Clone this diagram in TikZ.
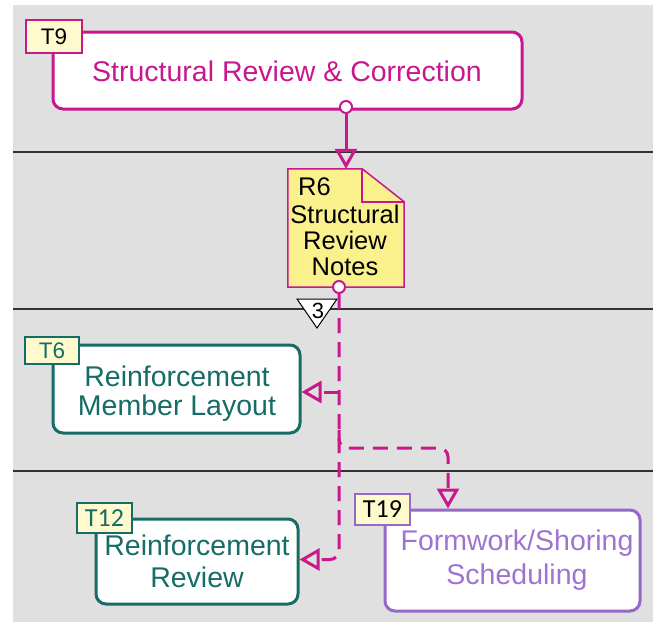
\documentclass[tikz,border=0pt]{standalone}
\usepackage{fontspec}
\setmainfont{Liberation Sans}
\newfontfamily\tagfont{Carlito}
\usetikzlibrary{arrows.meta}

\definecolor{lanegray}{RGB}{224,224,224}
\definecolor{magentaflow}{RGB}{200,24,140}
\definecolor{tealtask}{RGB}{22,108,102}
\definecolor{purpletask}{RGB}{150,104,200}
\definecolor{purpletext}{RGB}{160,115,210}
\definecolor{tagfill}{RGB}{255,250,205}
\definecolor{notefill}{RGB}{250,240,140}

\tikzset{
  taskbox/.style={draw, line width=3pt, fill=white, rounded corners=10pt,
    inner sep=0pt},
  tasktext/.style={align=center, inner sep=0pt, font=\fontsize{28.5}{29}\selectfont},
  tagbox/.style={draw, line width=2.5pt, fill=tagfill, inner sep=0pt,
    font=\fontsize{22.5}{24}\selectfont},
  port/.style={circle, draw=magentaflow, line width=2pt, fill=white,
    minimum size=12pt, inner sep=0pt},
  solidflow/.style={draw=magentaflow, line width=3pt,
    -{Triangle[open, length=20pt, width=22pt]}},
  dashflow/.style={draw=magentaflow, line width=3pt, dash pattern=on 15pt off 9pt,
    rounded corners=9pt, -{Triangle[open, length=20pt, width=22pt]}},
  laneline/.style={draw=black!80, line width=1.3pt}
}

\begin{document}
\begin{tikzpicture}[x=1pt, y=-1pt]
\useasboundingbox (0,0) rectangle (657,622);

% swimlane background and separators
\fill[lanegray] (13,5) rectangle (653,622);
\draw[laneline] (13,152) -- (653,152);
\draw[laneline] (13,309) -- (653,309);
\draw[laneline] (13,471) -- (653,471);

% T9
\node[taskbox, draw=magentaflow, minimum width=469pt, minimum height=77pt]
      (t9) at (287.5,70.5) {};
\node[tasktext, text=magentaflow] (t9text) at (287,71) {Structural Review \& Correction};
\node[tagbox, draw=magentaflow, minimum width=56pt, minimum height=33pt]
      (t9tag) at (54,36.5) {T9};
\node[port] (t9out) at (346,107) {};

% R6 document (dog-eared note)
\node[minimum width=116pt, minimum height=118pt, inner sep=0pt] (r6) at (346,228) {};
\filldraw[draw=magentaflow, fill=notefill, line width=1.5pt]
  (r6.north west) -- ([xshift=-42pt]r6.north east) -- ([yshift=-33pt]r6.north east)
  -- (r6.south east) -- (r6.south west) -- cycle;
\draw[magentaflow, line width=1.5pt]
  ([xshift=-42pt]r6.north east) -- ([xshift=-42pt,yshift=-33pt]r6.north east)
  -- ([yshift=-33pt]r6.north east);
\node[align=center, inner sep=0pt, font=\fontsize{25.5}{26}\selectfont]
  (r6text) at (345,240) {Structural\\Review\\Notes};
\node[anchor=west, inner sep=0pt, font=\fontsize{25.5}{26}\selectfont]
  (r6id) at (298,187) {R6};
\node[port] (r6out) at (339,287) {};

% count marker
\filldraw[draw=black, fill=white, line width=1pt]
  (297,299) -- (337,299) -- (317,328) -- cycle;
\node[inner sep=0pt, font=\fontsize{22}{22}\selectfont] (cnt) at (318,311) {3};

% T6
\node[taskbox, draw=tealtask, minimum width=247pt, minimum height=88pt]
      (t6) at (176.5,389) {};
\node[tasktext, text=tealtask] (t6text) at (177,394) {Reinforcement\\Member Layout};
\node[tagbox, draw=tealtask, text=tealtask, minimum width=54pt, minimum height=27pt]
      (t6tag) at (52,350.5) {T6};

% T12
\node[taskbox, draw=tealtask, minimum width=202pt, minimum height=85pt]
      (t12) at (197,561.5) {};
\node[tasktext, text=tealtask, font=\fontsize{28.5}{32}\selectfont]
      (t12text) at (197,561) {Reinforcement\\Review};
\node[tagbox, draw=tealtask, text=tealtask, minimum width=55pt, minimum height=30pt,
      font=\tagfont\fontsize{26}{26}\selectfont]
      (t12tag) at (104.5,518) {T12};

% T19
\node[taskbox, draw=purpletask, minimum width=255pt, minimum height=101pt]
      (t19) at (512.5,560.5) {};
\node[tasktext, text=purpletext, font=\fontsize{28.5}{34}\selectfont]
      (t19text) at (517,560) {Formwork/Shoring\\Scheduling};
\node[tagbox, draw=purpletask, minimum width=55pt, minimum height=31pt,
      font=\tagfont\fontsize{26}{26}\selectfont]
      (t19tag) at (382.5,509.5) {T19};

% flows
\coordinate (j6) at (339,392);
\coordinate (j19) at (339,430);
\coordinate (k19) at (448,448);

\draw[solidflow] (t9out) -- (r6.north);
\draw[dashflow] (r6out) |- ([yshift=2pt]t12.east);
\draw[dashflow] (j6) -- (t6.east |- j6);
\draw[dashflow] (j19) |- (k19) -- (t19.north -| k19);
\end{tikzpicture}
\end{document}
